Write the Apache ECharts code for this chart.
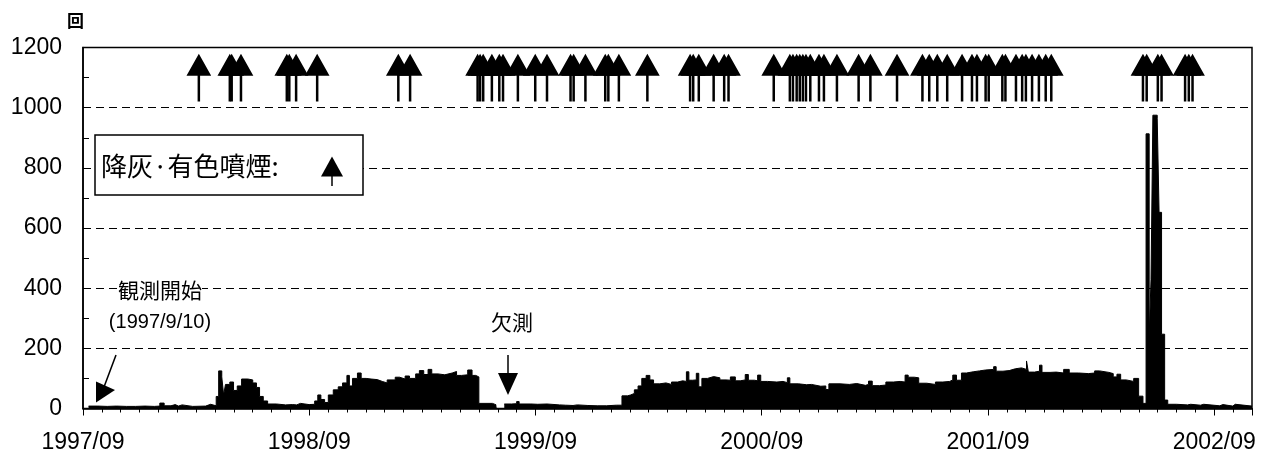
<!DOCTYPE html>
<html><head><meta charset="utf-8">
<script src="https://cdn.jsdelivr.net/npm/echarts@6/dist/echarts.min.js"></script>
<style>html,body{margin:0;padding:0;background:#fff}#c{width:1265px;height:460px}</style>
</head><body><div id="c"></div>
<script>
// ---- data ----
const tickLabels = ['1997/09','1998/09','1999/09','2000/09','2001/09','2002/09'];
const xStart = '1997-09-01';
const xEnd = '2002-11-01';

const dates = [
'1997-09-10','1997-09-25','1997-10-10','1997-10-25','1997-11-10','1997-11-25','1997-12-10','1997-12-25',
'1998-01-03','1998-01-10','1998-01-21','1998-01-28','1998-02-02','1998-02-08','1998-02-25','1998-03-18',
'1998-03-26','1998-04-04','1998-04-08','1998-04-13','1998-04-16','1998-04-19','1998-04-26','1998-05-02',
'1998-05-08','1998-05-15','1998-05-25','1998-06-02','1998-06-08','1998-06-13','1998-06-19','1998-06-26',
'1998-07-10','1998-07-25','1998-08-05','1998-08-12','1998-08-18','1998-09-01','1998-09-10','1998-09-15',
'1998-09-20','1998-09-26','1998-10-02','1998-10-10','1998-10-18','1998-10-25','1998-11-01','1998-11-05',
'1998-11-10','1998-11-18','1998-11-24','1998-12-02','1998-12-10','1998-12-20','1998-12-28','1999-01-05',
'1999-01-18','1999-01-25','1999-02-03','1999-02-10','1999-02-20','1999-02-26','1999-03-05','1999-03-12',
'1999-03-18','1999-03-28','1999-04-08','1999-04-20','1999-04-27','1999-05-05','1999-05-15','1999-05-22',
'1999-05-28','1999-06-02','1999-06-24','1999-06-30','1999-07-01','1999-07-13','1999-07-25','1999-08-02',
'1999-08-06','1999-08-25','1999-09-05','1999-09-20','1999-10-10','1999-10-20','1999-11-01','1999-11-08',
'1999-11-25','1999-12-10','1999-12-25','2000-01-10','2000-01-19','2000-01-28','2000-02-02','2000-02-08',
'2000-02-14','2000-02-20','2000-02-27','2000-03-04','2000-03-10','2000-03-20','2000-03-30','2000-04-08',
'2000-04-18','2000-04-26','2000-05-02','2000-05-06','2000-05-12','2000-05-18','2000-05-22','2000-05-27',
'2000-06-05','2000-06-15','2000-06-25','2000-07-05','2000-07-12','2000-07-20','2000-07-28','2000-08-05',
'2000-08-10','2000-08-20','2000-08-25','2000-08-30','2000-09-10','2000-09-25','2000-10-05','2000-10-12',
'2000-10-16','2000-10-30','2000-11-12','2000-11-20','2000-12-05','2000-12-13','2000-12-18','2001-01-05',
'2001-01-20','2001-02-01','2001-02-15','2001-02-20','2001-02-26','2001-03-10','2001-03-20','2001-04-01',
'2001-04-12','2001-04-20','2001-04-25','2001-05-05','2001-05-12','2001-05-25','2001-06-08','2001-06-20',
'2001-07-01','2001-07-06','2001-07-12','2001-07-20','2001-07-28','2001-08-08','2001-08-18','2001-08-28',
'2001-09-10','2001-09-14','2001-09-25','2001-10-05','2001-10-15','2001-10-25','2001-11-02','2001-11-05',
'2001-11-15','2001-11-23','2001-11-27','2001-12-10','2001-12-20','2002-01-01','2002-01-10','2002-01-25',
'2002-02-10','2002-02-20','2002-02-28','2002-03-15','2002-03-22','2002-03-28','2002-04-03','2002-04-12',
'2002-04-24','2002-05-02','2002-05-09','2002-05-14','2002-05-19','2002-05-22','2002-05-25','2002-06-01',
'2002-06-04','2002-06-08','2002-06-13','2002-06-18','2002-07-02','2002-07-05','2002-07-20','2002-07-25',
'2002-08-10','2002-08-15','2002-09-10','2002-09-15','2002-10-01','2002-10-05','2002-11-01'
];
const counts = [
8,7,8,7,7,8,7,8,
18,9,13,8,12,7,8,14,
9,40,125,105,45,80,88,60,
75,98,95,85,70,40,25,15,
12,13,12,17,13,14,25,45,
30,20,45,62,72,85,110,75,
100,118,100,98,96,90,85,95,
104,98,108,100,115,126,113,130,
115,112,118,123,110,112,128,110,
105,17,12,12,null,15,16,23,
15,14,15,12,11,10,12,10,
9,9,11,11,42,45,50,62,
75,100,110,95,82,85,80,88,
92,90,122,94,95,117,72,100,
106,102,95,94,105,92,95,113,
94,92,111,90,88,90,86,102,
82,79,80,74,75,63,82,80,
83,77,80,91,76,78,88,90,
88,111,104,102,84,80,88,90,
95,111,94,118,122,125,128,130,
139,124,126,132,135,130,158,121,
124,144,120,121,118,130,118,116,
118,125,120,116,105,114,95,90,
100,41,17,913,239,428,975,963,
652,247,28,14,20,12,14,11,
14,9,13,8,14,8,8
];
const ashDates = [
'1998-03-07','1998-04-26','1998-04-29','1998-05-14','1998-07-27','1998-07-31','1998-08-11','1998-09-14',
'1999-01-23','1999-02-11','1999-05-31','1999-06-04','1999-06-09','1999-06-23','1999-07-05','1999-07-11',
'1999-08-04','1999-09-01','1999-09-20','1999-10-28','1999-11-02','1999-11-21','1999-12-23','1999-12-28',
'2000-01-14','2000-02-29','2000-05-08','2000-05-13','2000-05-22','2000-06-15','2000-07-02','2000-07-09',
'2000-09-20','2000-10-16','2000-10-21','2000-10-27','2000-11-01','2000-11-06','2000-11-11','2000-11-18',
'2000-12-02','2000-12-10','2000-12-31','2001-02-04','2001-02-23','2001-04-07','2001-05-18','2001-05-29',
'2001-06-11','2001-06-27','2001-07-21','2001-08-06','2001-08-14','2001-08-28','2001-09-02','2001-09-24',
'2001-09-29','2001-10-16','2001-10-26','2001-11-01','2001-11-11','2001-11-22','2001-12-03','2001-12-12',
'2002-05-09','2002-05-15','2002-06-02','2002-06-08','2002-07-16','2002-07-22','2002-07-28'
];
const ashLevel = 1100;

// ---- helpers: x is measured in days since xStart ----
const DAY = 86400000;
function ts(s){ const p = s.split(/[-\/]/).map(Number); return Date.UTC(p[0], p[1]-1, p[2]||1); }
const t0 = ts(xStart);
function dayOf(s){ return Math.round((ts(s) - t0) / DAY); }
const xMax = dayOf(xEnd);
const yearDays = dayOf('2002-09-01') / 5;      // average year length over the span
const monthDays = yearDays / 12;               // average month length for the minor ticks
const seriesData = dates.map((d,i)=>[dayOf(d), counts[i]]);
const ashData = ashDates.map(d=>[dayOf(d), ashLevel]);
function fmtX(v){ const k = Math.round(v / yearDays); if (Math.abs(v - k*yearDays) < 1 && k < tickLabels.length) return tickLabels[k]; return ''; }

const NUM_FONT = "'Liberation Sans', Arial, sans-serif";
const CJK_FONT = "'Noto Sans CJK JP', sans-serif";
const arrowPath = 'path://M12.35,0L24.7,22L0,22Z M11.1,22L13.6,22L13.6,47.7L11.1,47.7Z';

const chart = echarts.init(document.getElementById('c'), null, {renderer:'canvas'});
chart.setOption({
  animation: false,
  backgroundColor: '#fff',
  grid: { left: 83, right: 13, top: 47.5, bottom: 51.5, show: true, borderColor: '#000', borderWidth: 1.5, backgroundColor: 'transparent' },
  xAxis: [{
    type: 'value', min: 0, max: xMax, interval: monthDays,
    axisLine: { show: true, onZero: false, lineStyle: { color: '#000', width: 1.5 } },
    axisTick: { show: true, length: 4, lineStyle: { color: '#000', width: 1 } },
    axisLabel: { show: true, color: '#000', fontSize: 23, fontFamily: NUM_FONT, margin: 23, formatter: fmtX, showMaxLabel: false, hideOverlap: false },
    splitLine: { show: false }
  },{
    type: 'value', min: 0, max: xMax, interval: yearDays, position: 'bottom', offset: 0,
    axisLine: { show: false, onZero: false },
    axisTick: { show: true, length: 7, lineStyle: { color: '#000', width: 1 } },
    axisLabel: { show: false }, splitLine: { show: false }
  }],
  yAxis: {
    type: 'value', min: 0, max: 1200, interval: 200,
    axisLine: { show: true, lineStyle: { color: '#000', width: 1.5 } },
    axisTick: { show: true, inside: true, length: 6, lineStyle: { color: '#000', width: 1 } },
    minorTick: { show: true, splitNumber: 2, length: 6, lineStyle: { color: '#000', width: 1 } },
    axisLabel: { color: '#000', fontSize: 23, fontFamily: NUM_FONT, margin: 21, formatter: function(v){ return String(v); } },
    splitLine: { show: true, lineStyle: { color: '#000', width: 1, type: [8, 5] } }
  },
  series: [{
    type: 'line', name: '回数', data: seriesData, step: 'end', symbol: 'none',
    connectNulls: false,
    lineStyle: { color: '#000', width: 1 }, areaStyle: { color: '#000', opacity: 1 }, z: 3
  },{
    type: 'scatter', name: '降灰·有色噴煙', data: ashData, symbol: arrowPath, symbolSize: [24.7, 47.7],
    itemStyle: { color: '#000', opacity: 1 }, z: 4
  }],
  graphic: [
    { type: 'text', left: 67, top: 12, style: { text: '回', font: "bold 17px " + CJK_FONT, fill: '#000' } },
    { type: 'rect', shape: { x: 95, y: 135, width: 268, height: 60 }, style: { fill: '#fff', stroke: '#000', lineWidth: 1.5 }, z: 10 },
    { type: 'text', x: 101, y: 166, style: { text: '降灰·有色噴煙:', font: "26px " + CJK_FONT, fill: '#000', textVerticalAlign: 'middle' }, z: 11 },
    { type: 'polygon', shape: { points: [[332,156.5],[343,176.5],[321,176.5]] }, style: { fill: '#000' }, z: 11 },
    { type: 'line', shape: { x1: 332, y1: 176, x2: 332, y2: 186 }, style: { stroke: '#000', lineWidth: 1.5 }, z: 11 },
    { type: 'text', x: 160, y: 290, style: { text: '観測開始', font: "21px " + CJK_FONT, fill: '#000', textAlign: 'center', textVerticalAlign: 'middle', backgroundColor: '#fff' }, z: 11 },
    { type: 'text', x: 160, y: 322, style: { text: '(1997/9/10)', font: "20px " + NUM_FONT, fill: '#000', textAlign: 'center', textVerticalAlign: 'middle' }, z: 11 },
    { type: 'line', shape: { x1: 116, y1: 355, x2: 104, y2: 387 }, style: { stroke: '#000', lineWidth: 1.5 }, z: 11 },
    { type: 'polygon', shape: { points: [[96,381.5],[96,402.5],[115,390]] }, style: { fill: '#000' }, z: 11 },
    { type: 'text', x: 512, y: 322, style: { text: '欠測', font: "21px " + CJK_FONT, fill: '#000', textAlign: 'center', textVerticalAlign: 'middle' }, z: 11 },
    { type: 'line', shape: { x1: 508, y1: 355, x2: 508, y2: 374 }, style: { stroke: '#000', lineWidth: 1.5 }, z: 11 },
    { type: 'polygon', shape: { points: [[498,373],[518,373],[508,395]] }, style: { fill: '#000' }, z: 11 }
  ]
});
</script>
</body></html>
